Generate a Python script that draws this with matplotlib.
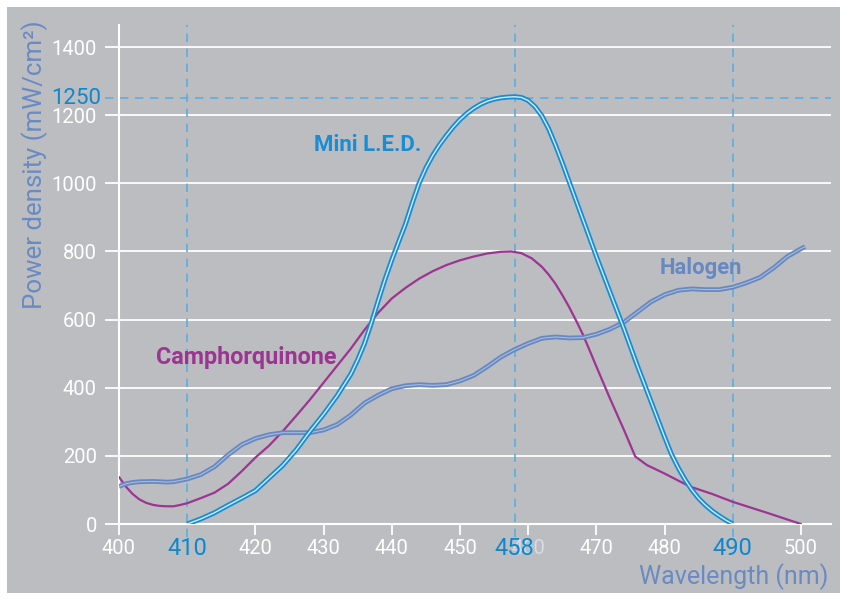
import matplotlib
matplotlib.use("Agg")
import matplotlib.pyplot as plt
from matplotlib.patches import Rectangle

plt.rcParams["font.family"] = ["Roboto", "DejaVu Sans"]

# --- data ---
led_nm = [410, 412, 414, 416, 418, 420, 422, 424, 426, 428, 430, 432, 434, 435,
          436, 437, 438, 439, 440, 441, 442, 443, 444, 445, 446, 447, 448, 449,
          450, 451, 452, 453, 454, 455, 456, 457, 458, 459, 460, 461, 462, 463,
          464, 465, 466, 468, 470, 472, 474, 476, 478, 480, 481, 482, 483,
          484, 485, 486, 487, 488, 489, 490]
led_pw = [0, 15, 33, 55, 76, 98, 135, 172, 218, 272, 322, 377, 440, 482,
          530, 590, 655, 718, 775, 828, 880, 942, 1000, 1045, 1082, 1113, 1140, 1165,
          1187, 1205, 1220, 1232, 1241, 1247, 1251, 1253, 1254, 1252, 1243, 1225, 1198, 1160,
          1112, 1060, 1005, 895, 785, 680, 575, 465, 360, 255, 205, 165, 130,
          100, 75, 55, 38, 24, 11, 0]

cq_nm = [400, 401, 402, 403, 404, 405, 406, 407, 408, 409, 410, 412, 414, 416,
         418, 420, 422, 424, 426, 428, 430, 432, 434, 436, 438, 440, 442, 444,
         446, 448, 450, 452, 454, 456, 457.5, 459, 460.5, 462, 463, 464, 465, 466,
         467, 468, 469, 470, 472, 474, 475.7, 477.4, 480, 483.7, 487, 490, 495, 500]
cq_pw = [138, 110, 88, 72, 62, 56, 53, 52, 52, 56, 61, 76, 92, 118,
         155, 195, 230, 272, 318, 365, 415, 465, 515, 570, 620, 662, 693, 720,
         742, 760, 774, 785, 794, 799, 800, 795, 780, 755, 732, 705, 672, 637,
         598, 557, 510, 462, 368, 278, 198, 173, 148, 110, 88, 65, 33, 0]

hal_nm = [400, 401, 402, 403, 405, 407, 408, 410, 412, 414, 416, 418, 420, 422,
          424, 426, 428, 430, 432, 434, 436, 438, 440, 442, 444, 446, 448, 450,
          452, 454, 456, 458, 460, 462, 464, 466, 468, 470, 472, 474, 476, 478,
          480, 482, 484, 486, 488, 490, 492, 494, 496, 498, 500, 500.6]
hal_pw = [110, 118, 122, 124, 125, 123, 124, 132, 145, 168, 203, 233, 251, 262,
          268, 268, 268, 276, 292, 320, 355, 378, 397, 406, 409, 407, 409, 420,
          436, 462, 490, 512, 530, 545, 549, 546, 547, 557, 572, 592, 622, 652,
          673, 686, 690, 688, 688, 695, 708, 724, 752, 785, 808, 814]

x_ticks = [400, 420, 430, 440, 450, 460, 470, 480, 500]
x_tick_labels = ["400", "420", "430", "440", "450", "460", "470", "480", "500"]
y_ticks = [0, 200, 400, 600, 800, 1000, 1200, 1400]
mark_nm = [410, 458, 490]
mark_pw = 1250

BG = "#bcbdc1"
LED_C = "#168dd5"
CQ_C = "#9c3592"
HAL_C = "#6788c0"
AX_LABEL_C = "#6a8bc2"
DASH_C = "#5aaee0"

fig = plt.figure(figsize=(8.47, 6.0), dpi=100, facecolor="white")
fig.patches.append(Rectangle((7 / 847, 7 / 600), 833 / 847, 586 / 600,
                             transform=fig.transFigure, facecolor=BG,
                             edgecolor="none", zorder=-10))

ax = fig.add_axes([119 / 847, 76 / 600, 712 / 847, 499 / 600])
ax.set_facecolor("none")
ax.set_xlim(400, 400 + 712 / 6.82)
ax.set_ylim(0, 499 / 0.3407)

for s in ["top", "right"]:
    ax.spines[s].set_visible(False)
for s in ["left", "bottom"]:
    ax.spines[s].set_color("white")
    ax.spines[s].set_linewidth(1.5)

ax.set_yticks(y_ticks)
ax.set_xticks(x_ticks)
ax.set_xticklabels(x_tick_labels)
ax.tick_params(axis="y", colors="white", length=10, width=1.3, pad=6, labelsize=14.5)
ax.tick_params(axis="x", colors="white", length=8, width=1.3, pad=3, labelsize=14.5)
ax.get_xticklabels()[5].set_color("#d6dbe6")
for y in y_ticks[1:]:
    ax.axhline(y, color="white", lw=1.3, zorder=1)

# reference marks
for x in mark_nm:
    ax.axvline(x, ymin=-13 / 499, ymax=1, color=DASH_C, lw=1.2,
               ls=(0, (5, 4)), clip_on=False, zorder=2)
ax.axhline(mark_pw, xmin=-14 / 712, xmax=1, color=DASH_C, lw=1.2,
           ls=(0, (5, 4)), clip_on=False, zorder=2)
for x in mark_nm:
    ax.text(x, -72, str(x), color="#0d88d0", fontsize=17, ha="center",
            va="center", zorder=5, clip_on=False)
ax.text(397.4, mark_pw, str(mark_pw), color="#0d88d0", fontsize=16,
        ha="right", va="center", clip_on=False)

# curves
ax.plot(cq_nm, cq_pw, color=CQ_C, lw=1.6, zorder=3, solid_capstyle="round")
ax.plot(hal_nm, hal_pw, color=HAL_C, lw=3.4, zorder=4, solid_capstyle="butt")
ax.plot(hal_nm, hal_pw, color="#a7bde0", lw=0.8, zorder=4)
ax.plot(led_nm, led_pw, color=LED_C, lw=3.6, zorder=4, solid_capstyle="butt")
ax.plot(led_nm, led_pw, color="#d5ecfa", lw=1.0, zorder=4)

ax.text(436.5, 1112, "Mini L.E.D.", color=LED_C, fontsize=16,
        fontweight="bold", ha="center", va="center")
ax.text(418.7, 490, "Camphorquinone", color=CQ_C, fontsize=16.8,
        fontweight="bold", ha="center", va="center")
ax.text(485.3, 751, "Halogen", color=HAL_C, fontsize=15.8,
        fontweight="bold", ha="center", va="center")

fig.text(35 / 847, 1 - 20 / 600, "Power density (mW/cm²)", color=AX_LABEL_C,
         fontsize=18.6, rotation=90, ha="center", va="top")
fig.text(828 / 847, 1 - 577 / 600, "Wavelength (nm)", color=AX_LABEL_C,
         fontsize=18, ha="right", va="center")

fig.savefig("out.png", dpi=100, facecolor="white")
